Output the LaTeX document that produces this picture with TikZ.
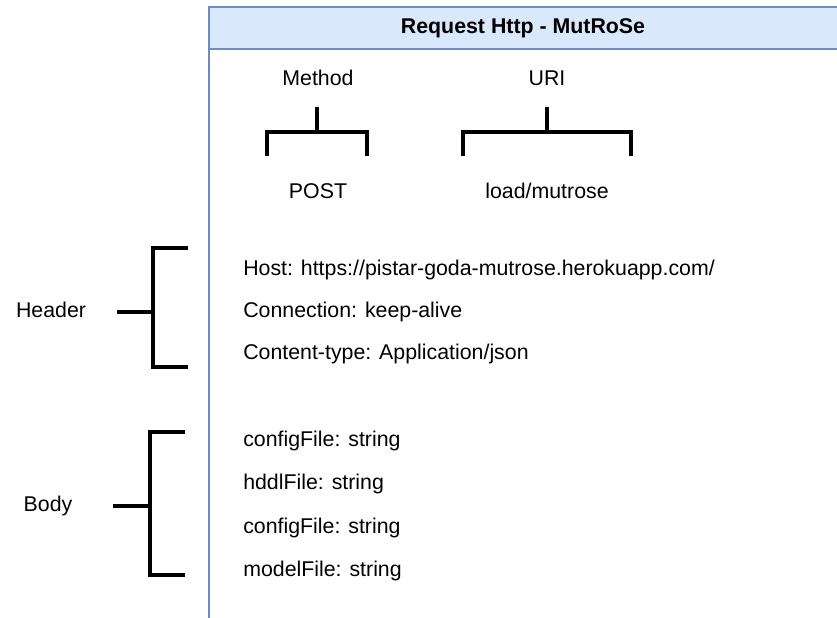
\documentclass[tikz,border=0pt]{standalone}
\usepackage{fontspec}
\setmainfont{Liberation Sans}
\usepackage{tikz}
\usetikzlibrary{positioning}
\definecolor{panelfill}{HTML}{DAE8FC}
\definecolor{panelline}{HTML}{6C8EBF}
\tikzset{
    txt/.style = {
        font=\fontsize{16}{19}\selectfont,
        inner sep=0pt,
        text height=11.5pt,
        text depth=3.5pt,
    },
    field/.style = {
        txt,
        anchor=west,
    },
    title/.style = {
        txt,
        font=\fontsize{16}{19}\selectfont\bfseries,
    },
    panel/.style = {
        draw=panelline,
        line width=1pt,
    },
}
\tikzstyle{bracket} = [line width=2.3pt, line join=miter]

\begin{document}
\begin{tikzpicture}[x=0.75pt, y=-0.75pt]
        \useasboundingbox (0,0) rectangle (837,617);
        \draw [panel, fill=white] (209,7) rectangle (845,630);
        \draw [panel, fill=panelfill] (209,7) rectangle (845,49);
        \node(reqtitle) [title] at (523,28)
        {Request Http - MutRoSe};

        \node(method) [txt] at (318,80)
        {Method};
        \node(post) [txt] at (318,193)
        {POST};
        \node(uri) [txt] at (547,80)
        {URI};
        \node(uripath) [txt] at (547,193)
        {load/mutrose};

        \node(host) [field] at (243,270)
        {Host: https://pistar-goda-mutrose.herokuapp.com/};
        \node(conn) [field, below = 31.5pt of host.west, anchor=west]
        {Connection: keep-alive};
        \node(ctype) [field, below = 31.5pt of conn.west, anchor=west]
        {Content-type: Application/json};

        \node(cfgA) [field] at (243,441)
        {configFile: string};
        \node(hddl) [field, below = 32.5pt of cfgA.west, anchor=west]
        {hddlFile: string};
        \node(cfgB) [field, below = 32.5pt of hddl.west, anchor=west]
        {configFile: string};
        \node(model) [field, below = 32.5pt of cfgB.west, anchor=west]
        {modelFile: string};

        \node(header) [txt] at (51,312)
        {Header};
        \node(body) [txt] at (48,506)
        {Body};

        \draw [bracket] (267,156) -- (267,132) -- (367,132) -- (367,156);
        \draw [bracket] (317,107) -- (317,132);
        \draw [bracket] (463,156) -- (463,132) -- (631,132) -- (631,156);
        \draw [bracket] (547,107) -- (547,132);

        \draw [bracket] (188,248) -- (153,248) -- (153,367) -- (188,367);
        \draw [bracket] (117,312) -- (153,312);
        \draw [bracket] (185,432) -- (150,432) -- (150,575) -- (185,575);
        \draw [bracket] (113,506) -- (150,506);

    \end{tikzpicture}
\end{document}
